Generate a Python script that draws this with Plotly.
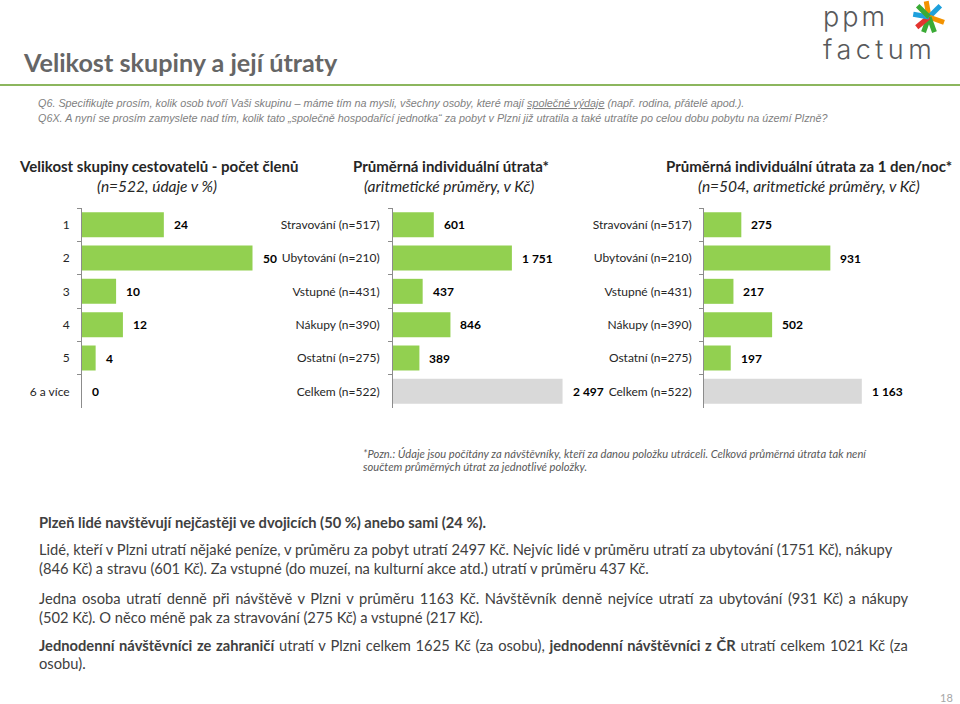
import math
import plotly.graph_objects as go

# ---------------- data ----------------
group_sizes = ["1", "2", "3", "4", "5", "6 a více"]
group_share = [24, 50, 10, 12, 4, 0]

spend_items = ["Stravování (n=517)", "Ubytování (n=210)", "Vstupné (n=431)",
               "Nákupy (n=390)", "Ostatní (n=275)", "Celkem (n=522)"]
spend_total = [601, 1751, 437, 846, 389, 2497]
spend_total_labels = ["601", "1 751", "437", "846", "389", "2 497"]

spend_daily = [275, 931, 217, 502, 197, 1163]
spend_daily_labels = ["275", "931", "217", "502", "197", "1 163"]

# ---------------- styles ----------------
W, H = 960, 704
GREEN = "#92D050"
GREY_BAR = "#D9D9D9"
FONT = "Lato"
TXT = "#262626"


def px(x):
    return x / W


def py(y):
    return 1 - y / H


fig = go.Figure()

bar_colors_2 = [GREEN] * 5 + [GREY_BAR]

fig.add_trace(go.Bar(x=group_share, y=group_sizes, orientation="h",
                     marker=dict(color=GREEN, line=dict(width=0)),
                     xaxis="x", yaxis="y", hoverinfo="skip"))
fig.add_trace(go.Bar(x=spend_total, y=spend_items, orientation="h",
                     marker=dict(color=bar_colors_2, line=dict(width=0)),
                     xaxis="x2", yaxis="y2", hoverinfo="skip"))
fig.add_trace(go.Bar(x=spend_daily, y=spend_items, orientation="h",
                     marker=dict(color=bar_colors_2, line=dict(width=0)),
                     xaxis="x3", yaxis="y3", hoverinfo="skip"))

ydom = [py(408), py(208)]

xcommon = dict(showgrid=False, zeroline=False, showticklabels=False,
               showline=False, ticks="", fixedrange=True)
ycommon = dict(type="category", autorange="reversed", showgrid=False,
               zeroline=False, showline=True, linecolor="#8C8C8C", linewidth=1,
               ticks="outside", tickson="boundaries", ticklen=4,
               tickcolor="#8C8C8C",
               tickfont=dict(family=FONT, size=12, color=TXT), domain=ydom)

layout = dict(
    width=W, height=H, margin=dict(l=0, r=0, t=0, b=0),
    paper_bgcolor="white", plot_bgcolor="rgba(0,0,0,0)",
    showlegend=False, bargap=0.25,
    xaxis=dict(domain=[px(82), px(300)], range=[0, 218 / 3.41], anchor="y", **xcommon),
    yaxis=dict(anchor="x", categoryorder="array", categoryarray=group_sizes,
               ticklabelstandoff=9, **ycommon),
    xaxis2=dict(domain=[px(393), px(590)], range=[0, 197 / 0.0679], anchor="y2", **xcommon),
    yaxis2=dict(anchor="x2", categoryorder="array", categoryarray=spend_items,
                ticklabelstandoff=10, **ycommon),
    xaxis3=dict(domain=[px(704), px(950)], range=[0, 246 / 0.1357], anchor="y3", **xcommon),
    yaxis3=dict(anchor="x3", categoryorder="array", categoryarray=spend_items,
                ticklabelstandoff=9, **ycommon),
)
fig.update_layout(**layout)

ann = []

# value labels (data coordinates; y given as category position)
val_font = dict(family=FONT, size=12, color="#000000", weight="bold")
for i, v in enumerate(group_share):
    ann.append(dict(x=v, y=i, xref="x", yref="y", text=str(v), showarrow=False,
                    xanchor="left", xshift=8, font=val_font))
for i, (v, t) in enumerate(zip(spend_total, spend_total_labels)):
    ann.append(dict(x=v, y=i, xref="x2", yref="y2", text=t, showarrow=False,
                    xanchor="left", xshift=8, font=val_font))
for i, (v, t) in enumerate(zip(spend_daily, spend_daily_labels)):
    ann.append(dict(x=v, y=i, xref="x3", yref="y3", text=t, showarrow=False,
                    xanchor="left", xshift=8, font=val_font))


def text(x, y, s, size, color=TXT, family=FONT, anchor="left", weight="normal",
         style="normal", yanchor="middle"):
    ann.append(dict(x=px(x), y=py(y), xref="paper", yref="paper", text=s,
                    showarrow=False, xanchor=anchor, yanchor=yanchor, align="left",
                    font=dict(family=family, size=size, color=color,
                              weight=weight, style=style)))


# page title
text(21, 62, "Velikost skupiny a její útraty", 25.2, color="#666666", weight="bold")

# question lines
qfont = "Liberation Sans"
text(36, 103, "Q6. Specifikujte prosím, kolik osob tvoří Vaši skupinu – máme tím na mysli, všechny osoby, "
     "které mají <u>společné výdaje</u> (např. rodina, přátelé apod.).", 10.8,
     color="#7F7F7F", family=qfont, style="italic")
text(36, 118, "Q6X. A nyní se prosím zamyslete nad tím, kolik tato „společně hospodařící jednotka“ za pobyt "
     "v Plzni již utratila a také utratíte po celou dobu pobytu na území Plzně?", 10.8,
     color="#7F7F7F", family=qfont, style="italic")

# chart headers
hs, ss = 15, 15.5
text(158, 166, "Velikost skupiny cestovatelů - počet členů", hs, anchor="center", weight="bold")
text(157, 186, "(n=522, údaje v %)", ss, anchor="center", style="italic")
text(451, 166, "Průměrná individuální útrata*", hs, anchor="center", weight="bold")
text(449, 186, "(aritmetické průměry, v Kč)", ss, anchor="center", style="italic")
text(809, 166, "Průměrná individuální útrata za 1 den/noc*", hs, anchor="center", weight="bold")
text(809, 186, "(n=504, aritmetické průměry, v Kč)", ss, anchor="center", style="italic")

# footnote
fs = 11.2
text(361, 453, "*Pozn.: Údaje jsou počítány za návštěvníky, kteří za danou položku utráceli. "
     "Celková průměrná útrata tak není", fs, color="#595959", style="italic")
text(361, 466, "součtem průměrných útrat za jednotlivé položky.", fs, color="#595959", style="italic")

# commentary
BT = "#404040"
bs = 14.7
text(37, 522, "Plzeň lidé navštěvují nejčastěji ve dvojicích (50 %) anebo sami (24 %).", bs,
     color=BT, weight="bold")
text(37, 549, "Lidé, kteří v Plzni utratí nějaké peníze, v průměru za pobyt utratí 2497 Kč. Nejvíc lidé "
     "v průměru utratí za ubytování (1751 Kč), nákupy", bs, color=BT)
text(37, 568, "(846 Kč) a stravu (601 Kč). Za vstupné (do muzeí, na kulturní akce atd.) utratí "
     "v průměru 437 Kč.", bs, color=BT)
text(37, 598, "<span style='word-spacing:1.85px'>Jedna osoba utratí denně při návštěvě v Plzni v průměru "
     "1163 Kč. Návštěvník denně nejvíce utratí za ubytování (931 Kč) a nákupy</span>", bs, color=BT)
text(37, 617, "(502 Kč). O něco méně pak za stravování (275 Kč) a vstupné (217 Kč).", bs, color=BT)
text(37, 645, "<span style='word-spacing:1.05px'><b>Jednodenní návštěvníci ze zahraničí</b> utratí v Plzni "
     "celkem 1625 Kč (za osobu), <b>jednodenní návštěvníci z ČR</b> utratí celkem 1021 Kč (za</span>",
     bs, color=BT)
text(37, 663, "osobu).", bs, color=BT)

# page number
text(955, 697, "18", 11, color="#A6A6A6", anchor="right")

# logo text (one block)
text(821, -2, "<span style='font-size:27px;letter-spacing:3px'>ppm</span><br>"
     "<span style='font-size:27px;letter-spacing:4.5px'>factum</span>",
     25.4, color="#58595B", family="Inter", weight=300, yanchor="top")

fig.update_layout(annotations=ann)

# shapes: green rule + logo asterisk
shapes = [dict(type="line", xref="paper", yref="paper", x0=0, x1=1, y0=py(85), y1=py(85),
               line=dict(color="#8CB65E", width=2))]
cx, cy, r = 929, 17, 16
arms = [(100, "#F39200"), (45, "#1EA0DC"), (-20, "#F39200"), (-70, "#3AAA35"),
        (-110, "#3AAA35"), (-140, "#E3342F"), (170, "#1EA0DC"), (135, "#3AAA35")]
for ang, col in arms:
    a = math.radians(ang)
    shapes.append(dict(type="line", xref="paper", yref="paper",
                       x0=px(cx), y0=py(cy),
                       x1=px(cx + r * math.cos(a)), y1=py(cy - r * math.sin(a)),
                       line=dict(color=col, width=5)))
fig.update_layout(shapes=shapes)

fig.write_html("out.html")
